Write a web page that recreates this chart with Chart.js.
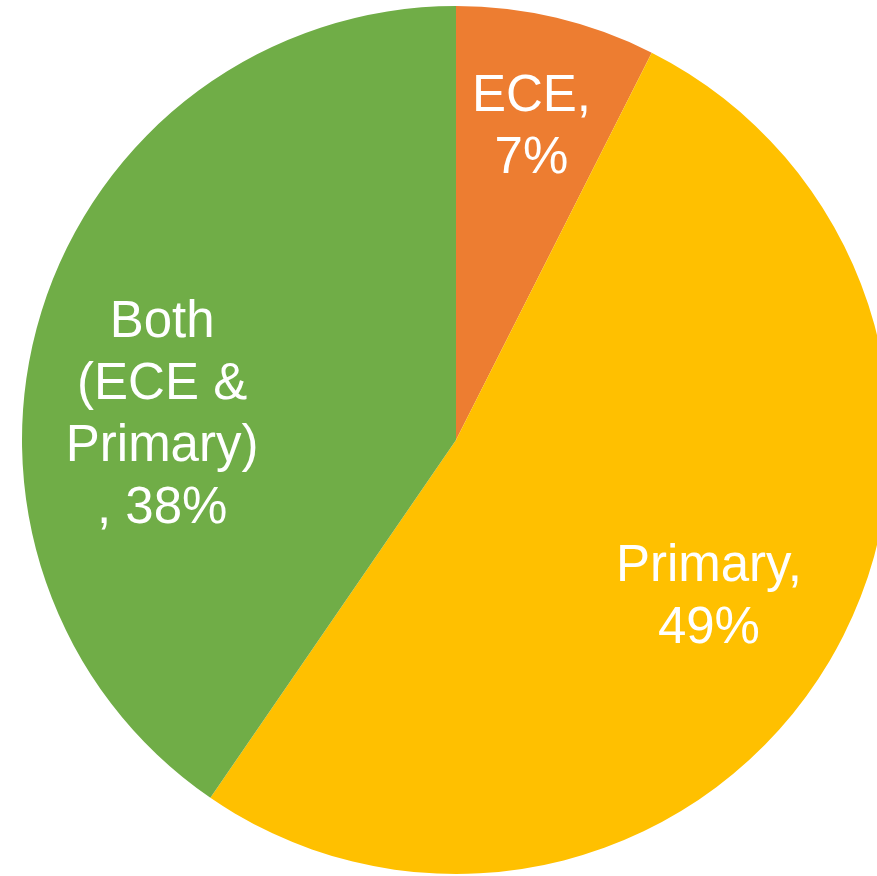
<!DOCTYPE html>
<html>
<head>
<meta charset="utf-8">
<title>Level taught</title>
<script src="https://cdn.jsdelivr.net/npm/chart.js@4/dist/chart.umd.min.js"></script>
<style>
    html, body { margin: 0; padding: 0; overflow: hidden; background: #fff; }
    #wrap { position: absolute; left: 0; top: 0; width: 890px; height: 876px; }
</style>
</head>
<body>
<div id="wrap"><canvas id="levelPie" width="890" height="876"></canvas></div>
<script>
// Share of respondents by level taught
const categories = ['ECE', 'Primary', ['Both', '(ECE &', 'Primary)']];
const shares = [7, 49, 38];
const sliceColors = ['#ED7D31', '#FFC000', '#70AD47'];

// Label placement: fraction of radius along the slice mid-angle, then a pixel nudge
const labelRadius = [0.75, 0.68, 0.68];
const labelNudge = [[0, 0], [-1, 3], [-12, 59]];
const labelFontSize = 51;
const labelLineHeight = 62;

function labelLines(cat, value) {
    if (Array.isArray(cat)) return [...cat, `, ${value}%`];
    return [`${cat},`, `${value}%`];
}

const sliceLabels = {
    id: 'sliceLabels',
    afterDatasetsDraw(chart) {
        const ctx = chart.ctx;
        const meta = chart.getDatasetMeta(0);
        ctx.save();
        ctx.fillStyle = '#ffffff';
        ctx.font = `${labelFontSize}px "Liberation Sans", Arial, sans-serif`;
        ctx.textAlign = 'center';
        ctx.textBaseline = 'alphabetic';
        meta.data.forEach((arc, i) => {
            const p = arc.getProps(['x', 'y', 'startAngle', 'endAngle', 'outerRadius'], true);
            const mid = (p.startAngle + p.endAngle) / 2;
            const dist = p.outerRadius * labelRadius[i];
            const cx = p.x + Math.cos(mid) * dist + labelNudge[i][0];
            const cy = p.y + Math.sin(mid) * dist + labelNudge[i][1];
            const lines = labelLines(categories[i], shares[i]);
            const capHalf = labelFontSize * 0.716 / 2;
            let y = cy - (lines.length - 1) * labelLineHeight / 2 + capHalf;
            lines.forEach(line => {
                ctx.fillText(line, cx, y);
                y += labelLineHeight;
            });
        });
        ctx.restore();
    }
};

new Chart(document.getElementById('levelPie'), {
    type: 'pie',
    data: {
        labels: categories.map(c => Array.isArray(c) ? c.join(' ') : c),
        datasets: [{
            data: shares,
            backgroundColor: sliceColors,
            borderWidth: 0
        }]
    },
    options: {
        responsive: false,
        animation: false,
        layout: {padding: {left: 22, top: 6, bottom: 2, right: 0}},
        plugins: {
            legend: {display: false},
            tooltip: {enabled: false}
        }
    },
    plugins: [sliceLabels]
});
</script>
</body>
</html>
